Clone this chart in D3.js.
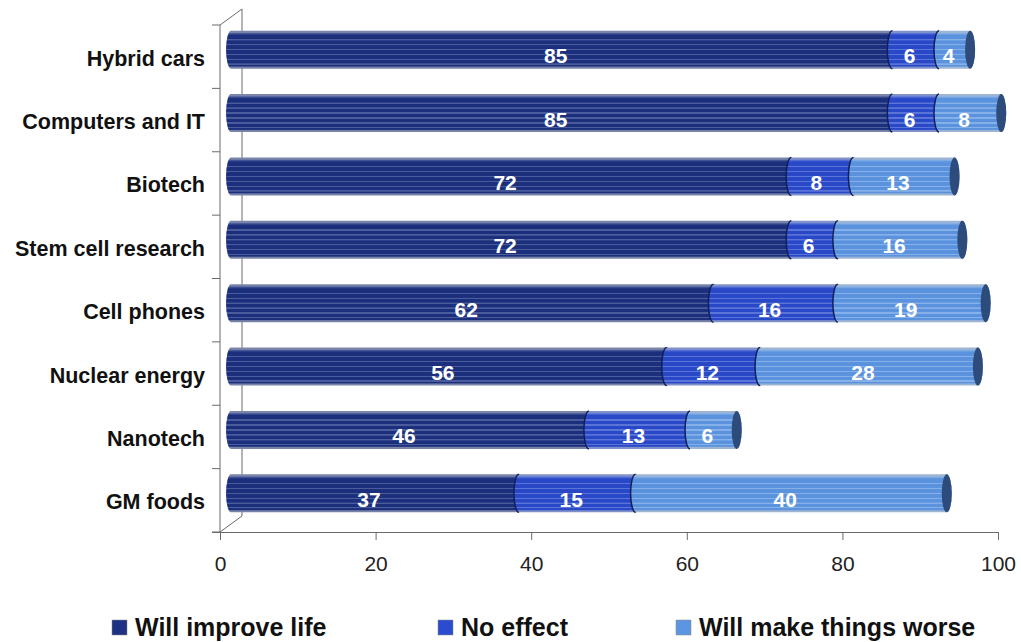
<!DOCTYPE html>
<html>
<head>
<meta charset="utf-8">
<script src="https://cdn.jsdelivr.net/npm/d3@7"></script>
<style>
  html, body { margin: 0; padding: 0; background: #fff; }
  svg { display: block; font-family: "Liberation Sans", Arial, sans-serif; }
</style>
</head>
<body>
<svg id="chart" width="1021" height="642"></svg>
<script>
const categories = ["Hybrid cars", "Computers and IT", "Biotech", "Stem cell research",
                    "Cell phones", "Nuclear energy", "Nanotech", "GM foods"];
const seriesNames = ["Will improve life", "No effect", "Will make things worse"];
const improve = [85, 85, 72, 72, 62, 56, 46, 37];
const noEffect = [6, 6, 8, 6, 16, 12, 13, 15];
const worse = [4, 8, 13, 16, 19, 28, 6, 40];
const xTicks = [0, 20, 40, 60, 80, 100];

const seriesValues = [improve, noEffect, worse];
const seriesColors = [
  { base: "#1b2f7c", stripe: "#4a5c9c", edge: "#7a84a8", cap: "#18275e", legend: "#1d3282" },
  { base: "#2848c8", stripe: "#5a74d8", edge: "#8090c8", cap: "#1d318a", legend: "#2c4cd0" },
  { base: "#5a92de", stripe: "#86b0e8", edge: "#9db4d2", cap: "#2d4c7c", legend: "#5d96e0" }
];

const svg = d3.select("#chart");
const defs = svg.append("defs");

const x = d3.scaleLinear().domain([0, 100]).range([220, 998]);
const y = d3.scaleBand().domain(categories).range([25, 532]).padding(0);

const depthX = 11, depthY = -7;
const barH = 38, rx = 5;

// gradients with stripes
seriesColors.forEach((c, i) => {
  const g = defs.append("linearGradient")
    .attr("id", "grad" + i).attr("x1", 0).attr("y1", 0).attr("x2", 0).attr("y2", 1);
  const stops = [[0, c.edge], [0.05, c.edge], [0.07, c.stripe], [0.12, c.base]];
  const stripes = [0.24, 0.37, 0.5, 0.63, 0.76, 0.88];
  stripes.forEach(s => {
    stops.push([s - 0.02, c.base], [s - 0.015, c.stripe], [s + 0.015, c.stripe], [s + 0.02, c.base]);
  });
  stops.push([0.93, c.base], [0.96, c.edge], [1, c.edge]);
  stops.forEach(([o, col]) => g.append("stop").attr("offset", o).attr("stop-color", col));
});

// axes lines (3D frame)
const axisColor = "#6a6a6a";
const frame = svg.append("g").attr("stroke", axisColor).attr("fill", "none").attr("stroke-width", 1);
const x0 = x(0), yTop = y.range()[0], yBot = y.range()[1];
const backDX = 22, backDY = -16;
frame.append("line").attr("x1", x0 + backDX).attr("y1", yTop + backDY).attr("x2", x0 + backDX).attr("y2", yBot + backDY);
frame.append("line").attr("x1", x0).attr("y1", yTop).attr("x2", x0 + backDX).attr("y2", yTop + backDY);
frame.append("line").attr("x1", x0).attr("y1", yBot).attr("x2", x0 + backDX).attr("y2", yBot + backDY);
frame.append("line").attr("x1", x0).attr("y1", yTop).attr("x2", x0).attr("y2", yBot);

// left ticks at band boundaries
const boundaries = categories.map(c => y(c)).concat([yBot]);
frame.selectAll(".ytick").data(boundaries).enter().append("line")
  .attr("x1", x0 - 8).attr("x2", x0).attr("y1", d => d).attr("y2", d => d);

// bottom axis
const xAxis = d3.axisBottom(x).tickValues(xTicks).tickSize(8).tickPadding(16).tickSizeOuter(0);
const xg = svg.append("g").attr("transform", `translate(0,${yBot})`).call(xAxis);
xg.select(".domain").attr("stroke", axisColor).attr("d", `M${x0 - 8},0.5H${x(100)}`);
xg.selectAll(".tick line").attr("stroke", axisColor);
xg.selectAll(".tick text").attr("fill", "#222").style("font-size", "21px")
  .style("font-family", "'Liberation Sans', Arial, sans-serif");

// category labels
svg.append("g").selectAll("text").data(categories).enter().append("text")
  .attr("x", 205).attr("y", d => y(d) + y.bandwidth() / 2 + 2)
  .attr("text-anchor", "end").attr("dominant-baseline", "central")
  .attr("fill", "#111").style("font-size", "21.5px").style("font-weight", "bold")
  .text(d => d);

// bars
const bars = svg.append("g");
categories.forEach((cat, ci) => {
  const yc = y(cat) + y.bandwidth() / 2 + depthY;
  const top = yc - barH / 2, bot = yc + barH / 2, ry = barH / 2;
  let cum = 0;
  const segs = seriesValues.map((vals, si) => {
    const s = cum; cum += vals[ci];
    return { si, s, e: cum, v: vals[ci] };
  });
  segs.forEach((sg, k) => {
    const xa = x(sg.s) + depthX, xb = x(sg.e) + depthX;
    const c = seriesColors[sg.si];
    bars.append("path")
      .attr("d", `M${xa},${top}L${xb},${top}A${rx},${ry} 0 0 1 ${xb},${bot}L${xa},${bot}A${rx},${ry} 0 0 1 ${xa},${top}Z`)
      .attr("fill", `url(#grad${sg.si})`);
    if (k > 0) {
      bars.append("path")
        .attr("d", `M${xa},${bot}A${rx},${ry} 0 0 1 ${xa},${top}`)
        .attr("fill", "none").attr("stroke", "#10205a").attr("stroke-width", 1.5);
    }
    bars.append("ellipse")
      .attr("cx", xb).attr("cy", yc).attr("rx", rx).attr("ry", ry)
      .attr("fill", c.cap);
  });
  // value labels
  segs.forEach(sg => {
    bars.append("text")
      .attr("x", x((sg.s + sg.e) / 2) + 5)
      .attr("y", y(cat) + y.bandwidth() / 2 - 1)
      .attr("text-anchor", "middle").attr("dominant-baseline", "central")
      .attr("fill", "#fff").style("font-size", "21px").style("font-weight", "bold")
      .text(sg.v);
  });
});

// legend
const legendX = [112, 438, 676];
const legend = svg.append("g");
seriesNames.forEach((name, i) => {
  legend.append("rect").attr("x", legendX[i]).attr("y", 620).attr("width", 15).attr("height", 15)
    .attr("fill", seriesColors[i].legend).attr("stroke", "#888").attr("stroke-width", 0.5);
  legend.append("text").attr("x", legendX[i] + 23).attr("y", 636)
    .attr("fill", "#111")
    .style("font-size", "25px").style("font-weight", "bold").text(name);
});
</script>
</body>
</html>
